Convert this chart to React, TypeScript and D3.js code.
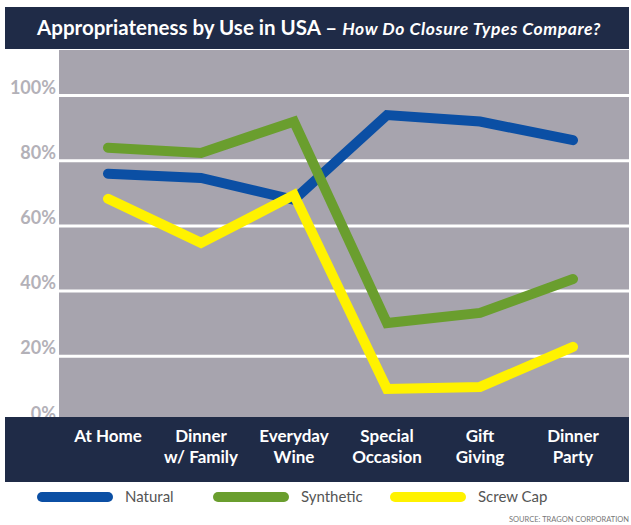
import React from "react";
import * as d3 from "d3";

const categories = [
  ["At Home"],
  ["Dinner", "w/ Family"],
  ["Everyday", "Wine"],
  ["Special", "Occasion"],
  ["Gift", "Giving"],
  ["Dinner", "Party"],
];
const categoryKeys = ["At Home", "Dinner w/ Family", "Everyday Wine", "Special Occasion", "Gift Giving", "Dinner Party"];
const natural = [76, 74.7, 68, 94, 92, 86.3];
const synthetic = [84, 82.4, 92, 30.2, 33.3, 43.7];
const screwCap = [68.3, 54.8, 69.5, 10, 10.6, 22.9];
const yTicks = [0, 20, 40, 60, 80, 100];

const seriesList = [
  { name: "Natural", values: natural, color: "#0b4fa4" },
  { name: "Synthetic", values: synthetic, color: "#6a9e2e" },
  { name: "Screw Cap", values: screwCap, color: "#fff200" },
];

const W = 631;
const H = 525;
const FONT = "Lato, 'Open Sans', sans-serif";

export default function App() {
  const x = d3.scalePoint<string>().domain(categoryKeys).range([108, 573]);
  const y = d3.scaleLinear().domain([0, 100]).range([421.5, 95.5]);
  const line = d3
    .line<number>()
    .x((_, i) => x(categoryKeys[i]) as number)
    .y((d) => y(d));

  return (
    <svg width={W} height={H} style={{ position: "absolute", left: 0, top: 0, background: "#fff" }}>
      {/* plot background */}
      <rect x={59} y={50} width={570} height={370} fill="#a7a4ae" />
      {yTicks.map((t) => (
        <g key={t}>
          <line x1={59} x2={629} y1={y(t)} y2={y(t)} stroke="#fff" strokeWidth={3} />
          <text
            x={56}
            y={y(t) - 2}
            textAnchor="end"
            fontFamily={FONT}
            fontWeight={700}
            fontSize={18}
            fill="#b3b1b8"
          >
            {t}%
          </text>
        </g>
      ))}
      {seriesList.map((s) => (
        <path
          key={s.name}
          d={line(s.values) || ""}
          fill="none"
          stroke={s.color}
          strokeWidth={10}
          strokeLinecap="round"
          strokeLinejoin="miter"
        />
      ))}
      {/* title band */}
      <rect x={5} y={7} width={624} height={42} fill="#1f2b47" />
      <text x={319} y={35} textAnchor="middle" fontFamily={FONT} fill="#fff">
        <tspan fontWeight={700} fontSize={20.5}>Appropriateness by Use in USA – </tspan>
        <tspan fontWeight={700} fontStyle="italic" fontSize={17.5} letterSpacing={0.6}>How Do Closure Types Compare?</tspan>
      </text>
      {/* category band */}
      <rect x={5} y={417} width={624} height={65} fill="#1f2b47" />
      {categories.map((lines, i) => (
        <text
          key={i}
          x={x(categoryKeys[i]) as number}
          y={442}
          textAnchor="middle"
          fontFamily={FONT}
          fontWeight={700}
          fontSize={17}
          fill="#fff"
        >
          {lines.map((l, j) => (
            <tspan key={j} x={x(categoryKeys[i]) as number} dy={j === 0 ? 0 : 21}>
              {l}
            </tspan>
          ))}
        </text>
      ))}
      {/* legend */}
      {seriesList.map((s, i) => {
        const lx = [37, 213, 390][i];
        return (
          <g key={s.name}>
            <line x1={lx + 5} x2={lx + 71} y1={497} y2={497} stroke={s.color} strokeWidth={10} strokeLinecap="round" />
            <text x={lx + 88} y={502} fontFamily={FONT} fontSize={15} fill="#555">
              {s.name}
            </text>
          </g>
        );
      })}
      <text x={629} y={522} textAnchor="end" fontFamily={FONT} fontSize={7.5} fill="#777">
        SOURCE: TRAGON CORPORATION
      </text>
    </svg>
  );
}
